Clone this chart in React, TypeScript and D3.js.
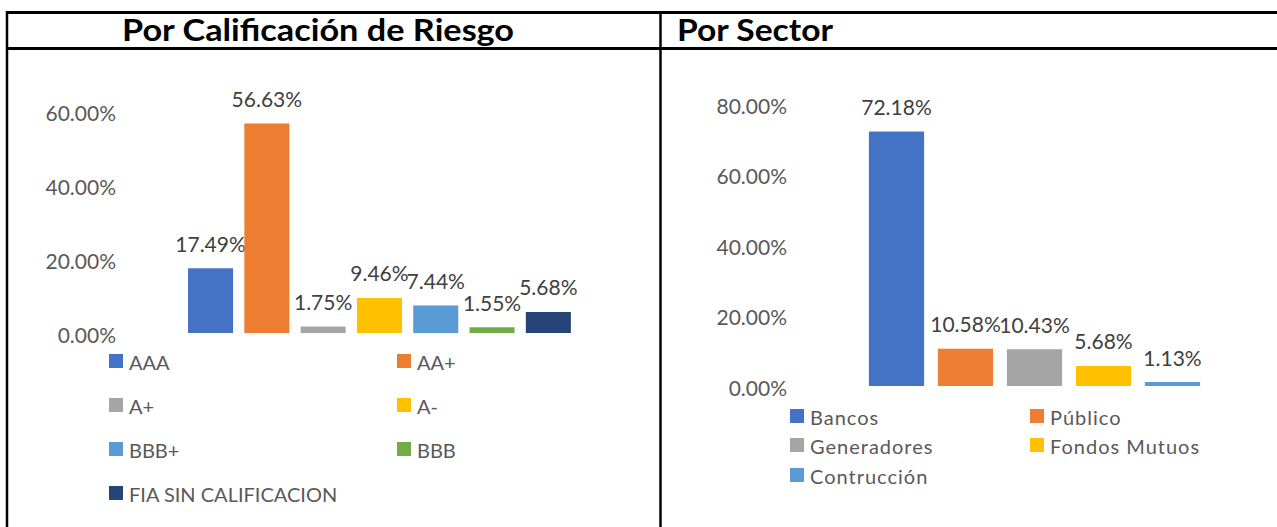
import React from "react";
import * as d3 from "d3";

const ratingCategories = ["AAA", "AA+", "A+", "A-", "BBB+", "BBB", "FIA SIN CALIFICACION"];
const ratingValues = [17.49, 56.63, 1.75, 9.46, 7.44, 1.55, 5.68];
const ratingTicks = [0, 20, 40, 60];

const sectorCategories = ["Bancos", "Público", "Generadores", "Fondos Mutuos", "Contrucción"];
const sectorValues = [72.18, 10.58, 10.43, 5.68, 1.13];
const sectorTicks = [0, 20, 40, 60, 80];

const ratingColors = ["#4472C4", "#ED7D31", "#A5A5A5", "#FFC000", "#5B9BD5", "#70AD47", "#264478"];
const sectorColors = ["#4472C4", "#ED7D31", "#A5A5A5", "#FFC000", "#5B9BD5"];

const FONT = "Lato, 'Open Sans', sans-serif";
const fmt = (v: number) => d3.format(".2f")(v) + "%";

type PanelProps = {
  cats: string[];
  values: number[];
  ticks: number[];
  colors: string[];
  xRange: [number, number];
  yRange: [number, number];
  yMax: number;
  tickX: number;
  legendCols: number[];
  legendRows: number[];
  legendSpacing?: number;
};

function Panel(p: PanelProps) {
  const x = d3.scaleBand<string>().domain(p.cats).range(p.xRange).paddingInner(0.2).paddingOuter(0.1);
  const y = d3.scaleLinear().domain([0, p.yMax]).range(p.yRange);
  return (
    <g>
      {p.ticks.map((t) => (
        <text key={"t" + t} x={p.tickX} y={y(t) + 1} textAnchor="end" dominantBaseline="central"
          fontFamily={FONT} fontSize={21} fill="#595959">{fmt(t)}</text>
      ))}
      {p.cats.map((c, i) => (
        <g key={c}>
          <rect x={x(c)} y={y(p.values[i])} width={x.bandwidth()} height={y(0) - y(p.values[i])} fill={p.colors[i]} />
          <text x={(x(c) as number) + x.bandwidth() / 2} y={y(p.values[i]) - 25} textAnchor="middle"
            dominantBaseline="central" fontFamily={FONT} fontSize={21} fill="#404040">{fmt(p.values[i])}</text>
        </g>
      ))}
      {p.cats.map((c, i) => {
        const col = p.legendCols[i % p.legendCols.length];
        const row = p.legendRows[Math.floor(i / p.legendCols.length)];
        return (
          <g key={"l" + c}>
            <rect x={col} y={row - 7} width={14} height={14} fill={p.colors[i]} />
            <text x={col + 20} y={row + 1} dominantBaseline="central" fontFamily={FONT} fontSize={20}
              fill="#595959" letterSpacing={p.legendSpacing ?? 0}>{c}</text>
          </g>
        );
      })}
    </g>
  );
}

export default function App() {
  return (
    <svg width={1277} height={527} style={{ position: "absolute", left: 0, top: 0, background: "#fff" }}>
      <rect x={0} y={0} width={1277} height={527} fill="#ffffff" />
      <line x1={6} x2={1277} y1={12.5} y2={12.5} stroke="#000" strokeWidth={3} />
      <line x1={6} x2={1277} y1={48.5} y2={48.5} stroke="#000" strokeWidth={3} />
      <line x1={7} x2={7} y1={11} y2={527} stroke="#000" strokeWidth={2.5} />
      <line x1={660.5} x2={660.5} y1={11} y2={527} stroke="#000" strokeWidth={2.5} />
      <text x={122} y={41} textLength={392} lengthAdjust="spacingAndGlyphs" fontFamily={FONT}
        fontWeight="bold" fontSize={30} fill="#000">
        Por Calificación de Riesgo
      </text>
      <text x={677} y={41} textLength={156} lengthAdjust="spacingAndGlyphs" fontFamily={FONT}
        fontWeight="bold" fontSize={30} fill="#000">
        Por Sector
      </text>
      <Panel cats={ratingCategories} values={ratingValues} ticks={ratingTicks} colors={ratingColors}
        xRange={[182.4, 576.5]} yRange={[333, 111]} yMax={60} tickX={116}
        legendCols={[109, 397]} legendRows={[361, 405, 449, 493]} />
      <Panel cats={sectorCategories} values={sectorValues} ticks={sectorTicks} colors={sectorColors}
        xRange={[862, 1207]} yRange={[386, 104]} yMax={80} tickX={787}
        legendCols={[790, 1030]} legendRows={[416, 445, 475]} legendSpacing={1} />
    </svg>
  );
}
